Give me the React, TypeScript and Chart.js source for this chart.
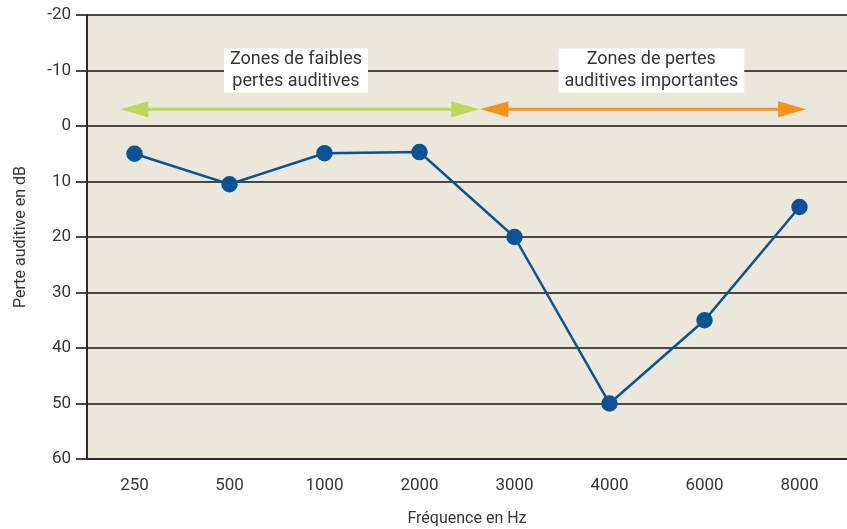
import React, { useEffect, useRef } from "react";
import { Chart, registerables } from "chart.js";

Chart.register(...registerables);

const categories = ["250", "500", "1000", "2000", "3000", "4000", "6000", "8000"];
const hearingLoss = [5, 10.5, 4.9, 4.7, 20, 50, 35, 14.6];
const yTicks = [-20, -10, 0, 10, 20, 30, 40, 50, 60];

// zones: [startIndex, endIndex, level(dB)], labels
const zoneLowRange = [-0.15, 3.63, -3];
const zoneHighRange = [3.64, 7.07, -3];
const zoneLowLabel = ["Zones de faibles", "pertes auditives"];
const zoneHighLabel = ["Zones de pertes", "auditives importantes"];
const zoneLowLabelPos = [1.7, -10];
const zoneHighLabelPos = [5.44, -10];

const FONT = "Roboto, 'DejaVu Sans', sans-serif";
const TEXT = "#363636";

export default function App() {
  const ref = useRef<HTMLCanvasElement>(null);
  useEffect(() => {
    document.body.style.margin = "0";
    const canvas = ref.current!;
    const bgPlugin = {
      id: "bg",
      beforeDraw(chart: any) {
        const { ctx, chartArea } = chart;
        ctx.save();
        ctx.fillStyle = "#ebe7da";
        ctx.fillRect(chartArea.left, chartArea.top, chartArea.right - chartArea.left, chartArea.bottom - chartArea.top);
        ctx.restore();
      },
    };
    const drawArrow = (ctx: any, x1: number, x2: number, y: number, color: string) => {
      const hl = 28, hh = 8;
      ctx.save();
      ctx.strokeStyle = color;
      ctx.fillStyle = color;
      ctx.lineWidth = 3;
      ctx.beginPath();
      ctx.moveTo(x1 + hl - 2, y);
      ctx.lineTo(x2 - hl + 2, y);
      ctx.stroke();
      ctx.beginPath();
      ctx.moveTo(x1, y);
      ctx.lineTo(x1 + hl, y - hh);
      ctx.lineTo(x1 + hl, y + hh);
      ctx.closePath();
      ctx.fill();
      ctx.beginPath();
      ctx.moveTo(x2, y);
      ctx.lineTo(x2 - hl, y - hh);
      ctx.lineTo(x2 - hl, y + hh);
      ctx.closePath();
      ctx.fill();
      ctx.restore();
    };
    const drawLabel = (ctx: any, cx: number, cy: number, lines: string[]) => {
      ctx.save();
      ctx.font = `18px ${FONT}`;
      const w = Math.max(...lines.map((l) => ctx.measureText(l).width)) + 12;
      const h = 44;
      ctx.fillStyle = "#ffffff";
      ctx.fillRect(cx - w / 2, cy - h / 2, w, h);
      ctx.fillStyle = TEXT;
      ctx.textAlign = "center";
      ctx.textBaseline = "middle";
      ctx.fillText(lines[0], cx, cy - 11);
      ctx.fillText(lines[1], cx, cy + 11);
      ctx.restore();
    };
    const zonePlugin = {
      id: "zones",
      beforeDatasetsDraw(chart: any) {
        const { ctx } = chart;
        const xs = chart.scales.x;
        const ys = chart.scales.y;
        drawArrow(ctx, xs.getPixelForValue(zoneLowRange[0]), xs.getPixelForValue(zoneLowRange[1]), ys.getPixelForValue(zoneLowRange[2]), "#bcd85a");
        drawArrow(ctx, xs.getPixelForValue(zoneHighRange[0]), xs.getPixelForValue(zoneHighRange[1]), ys.getPixelForValue(zoneHighRange[2]), "#f5921e");
        drawLabel(ctx, xs.getPixelForValue(zoneLowLabelPos[0]), ys.getPixelForValue(zoneLowLabelPos[1]), zoneLowLabel);
        drawLabel(ctx, xs.getPixelForValue(zoneHighLabelPos[0]), ys.getPixelForValue(zoneHighLabelPos[1]), zoneHighLabel);
      },
    };
    const chart = new Chart(canvas, {
      type: "line",
      data: {
        labels: categories,
        datasets: [
          {
            data: hearingLoss,
            borderColor: "#0b5394",
            backgroundColor: "#0b5394",
            borderWidth: 2.5,
            pointRadius: 7,
            pointHoverRadius: 7,
            tension: 0,
          },
        ],
      },
      options: {
        animation: false,
        responsive: false,
        maintainAspectRatio: false,
        layout: { autoPadding: false, padding: { top: 15, right: 0, left: 0, bottom: 0 } },
        plugins: { legend: { display: false }, tooltip: { enabled: false } },
        scales: {
          x: {
            type: "category",
            offset: true,
            grid: { display: false, drawOnChartArea: false, drawTicks: false },
            border: { display: true, color: "#2e2b28", width: 2 },
            ticks: { color: TEXT, font: { family: FONT, size: 17 }, padding: 17 },
            title: { display: true, text: "Fréquence en Hz", color: TEXT, font: { family: FONT, size: 16 }, padding: { top: 12, bottom: 0 } },
            afterFit(scale: any) { scale.height = 70; scale.paddingLeft = 0; scale.paddingRight = 0; },
          },
          y: {
            type: "linear",
            reverse: true,
            min: -20,
            max: 60,
            afterBuildTicks(scale: any) { scale.ticks = yTicks.map((v) => ({ value: v })); },
            grid: { color: "#4a4641", lineWidth: 2, tickLength: 11, drawTicks: true },
            border: { display: true, color: "#2e2b28", width: 2 },
            ticks: { color: TEXT, font: { family: FONT, size: 17 }, padding: 5 },
            title: { display: true, text: "Perte auditive en dB", color: TEXT, font: { family: FONT, size: 16 }, padding: { top: 11, bottom: 4 } },
            afterFit(scale: any) { scale.width = 87; scale.paddingTop = 0; scale.paddingBottom = 0; },
          },
        },
      },
      plugins: [bgPlugin, zonePlugin],
    } as any);
    return () => chart.destroy();
  }, []);
  return (
    <div style={{ width: 847, height: 529 }}>
      <canvas ref={ref} width={847} height={529} style={{ display: "block", width: 847, height: 529 }} />
    </div>
  );
}
